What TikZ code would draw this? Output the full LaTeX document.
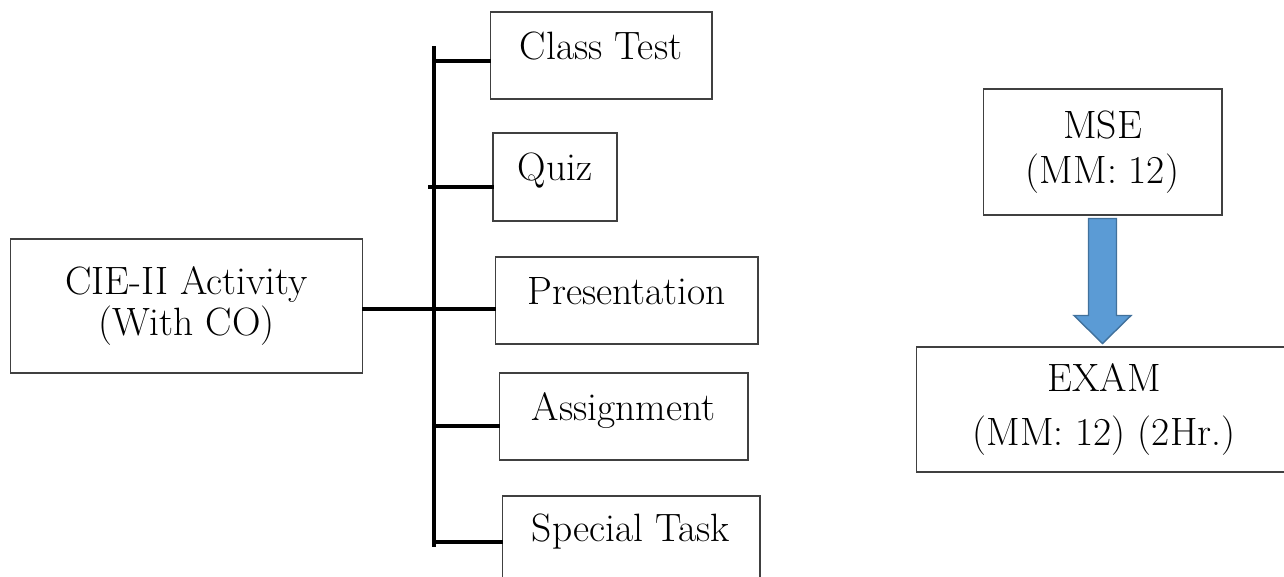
\documentclass[tikz,border=0pt]{standalone}
\usepackage{tikz}
\usetikzlibrary{calc}
\definecolor{arrowfill}{HTML}{5B9BD5}
\definecolor{arrowline}{HTML}{41719C}
\definecolor{boxline}{HTML}{404040}

\begin{document}
\begin{tikzpicture}[x=0.02cm,y=-0.02cm,
	box/.style={draw=boxline, line width=0.6pt, inner sep=0pt, align=center,
		font=\fontsize{22.5}{26}\selectfont},
	item/.style={box, minimum height=1.74cm, text height=12pt, text depth=8pt},
	bus/.style={line width=2.1pt, line cap=rect},
	blockarrow/.style={fill=arrowfill, draw=arrowline, line width=0.8pt, line join=miter}]
	\useasboundingbox (0,0) rectangle (1284,577);
	\clip (0,0) rectangle (1284,577);

	\node[box, minimum width=7.06cm, minimum height=2.68cm] (cie) at (186.5,306) {CIE-II Activity\\[-3pt](With CO)};

	\node[item, minimum width=4.44cm] (ct) at (601,55.5) {Class Test};
	\node[item, minimum width=2.48cm, minimum height=1.76cm] (quiz) at (555,177) {Quiz};
	\node[item, minimum width=5.26cm] (pres) at (626.5,300.5) {Presentation};
	\node[item, minimum width=4.98cm] (asg) at (623.5,416.5) {Assignment};
	\node[item, minimum width=5.16cm, minimum height=2cm, text height=8pt, text depth=12.6pt] (st) at (631,546) {Special Task};

	\node[box, minimum width=4.78cm, minimum height=2.52cm] (mse) at (1102.5,152) {MSE\\[-0.5pt](MM: 12)};
	\node[box, minimum width=7.52cm, minimum height=2.5cm] (exam) at (1104,409.5) {EXAM\\[5pt](MM: 12) (2Hr.)};

	\coordinate (bustop) at (434,48);
	\coordinate (busbot) at (434,545);
	\coordinate (b1) at (434,61);
	\coordinate (b2) at (430,187);
	\coordinate (b3) at (434,309);
	\coordinate (b4) at (434,426);
	\coordinate (b5) at (434,542);

	\draw[bus] (bustop) -- (busbot);
	\draw[bus] (b1) -- (b1 -| ct.west);
	\draw[bus] (b2) -- (b2 -| quiz.west);
	\draw[bus] (cie.east |- b3) -- (b3) -- (b3 -| pres.west);
	\draw[bus] (b4) -- (b4 -| asg.west);
	\draw[bus] (b5) -- (b5 -| st.west);

	\draw[blockarrow] ([xshift=-0.28cm,yshift=-0.06cm]mse.south) -- ++(28,0) -- ++(0,97) -- ++(14.5,0)
		-- ($(mse.south)+(0,128)$) -- ++(-28.5,-28) -- ++(14.5,0) -- cycle;
\end{tikzpicture}
\end{document}
